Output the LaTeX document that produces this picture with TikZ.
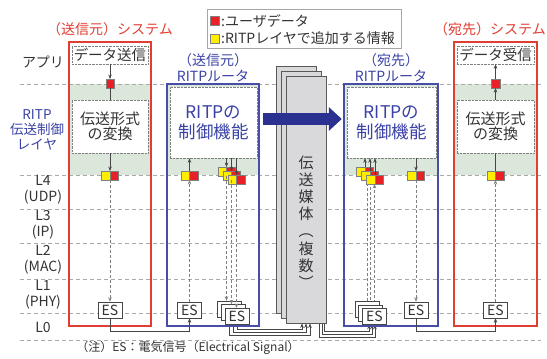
\documentclass[tikz,border=0pt]{standalone}
\usepackage{fontspec}
\setmainfont{Noto Sans CJK JP}
\usetikzlibrary{arrows.meta,positioning}

\definecolor{sysred}{RGB}{224,62,50}
\definecolor{rtblue}{RGB}{72,78,168}
\definecolor{txtblue}{RGB}{58,66,165}
\definecolor{bigblue}{RGB}{43,49,144}
\definecolor{band}{RGB}{220,231,219}
\definecolor{gridgray}{RGB}{170,170,170}
\definecolor{wiregray}{RGB}{70,70,70}
\definecolor{medfill}{RGB}{217,217,219}
\definecolor{usrred}{RGB}{232,32,40}
\definecolor{addyel}{RGB}{255,238,0}

\pgfdeclarelayer{back}
\pgfdeclarelayer{wires}
\pgfsetlayers{back,wires,main}

\newcommand\fsz[2]{\fontsize{#1}{#2}\selectfont}

\begin{document}
\begin{tikzpicture}[x=1pt,y=-1pt,
    sysbox/.style={draw=sysred,line width=1.1pt,minimum width=82pt,minimum height=284pt},
    rtbox/.style={draw=rtblue,line width=1.2pt,minimum height=242pt},
    funcbox/.style={draw=gray,densely dotted,fill=white,inner sep=0pt,align=center,text=black!80},
    usr/.style={draw=gray,fill=usrred,minimum size=8.5pt,inner sep=0pt},
    add/.style={draw=gray,fill=addyel,minimum size=8.5pt,inner sep=0pt},
    pair/.style={draw=gray,minimum width=17pt,minimum height=8.5pt,inner sep=0pt,
      path picture={
        \fill[addyel] (path picture bounding box.south west) rectangle (path picture bounding box.north);
        \fill[usrred] (path picture bounding box.south) rectangle (path picture bounding box.north east);
        \draw[gray] (path picture bounding box.south) -- (path picture bounding box.north);}},
    es/.style={draw=wiregray,fill=white,minimum width=24pt,minimum height=16pt,inner sep=0pt,
      font=\fsz{14}{16},text=black!80},
    medium/.style={draw=black!65,fill=medfill,line width=0.8pt,minimum width=40pt,minimum height=247pt},
    laylabel/.style={align=center,font=\fsz{14}{16},text=black!80},
    systitle/.style={text=sysred,font=\fsz{14}{16},inner sep=0pt},
    rttitle/.style={text=txtblue,align=center,font=\fsz{14}{15.5},inner sep=0pt},
    wire/.style={draw=wiregray,line width=0.6pt},
    sig/.style={wire,-{Stealth[length=4.5pt,width=3.5pt]}},
    dsig/.style={draw=gray,line width=0.7pt,dash pattern=on 3pt off 2pt,-{Stealth[length=4.5pt,width=3.5pt]}},
    gridline/.style={draw=gridgray,line width=0.6pt,dash pattern=on 4pt off 3pt},
  ]
  \useasboundingbox (0,0) rectangle (547,359);

  % layers and green band
  \begin{pgfonlayer}{back}
    \fill[band] (69,84) rectangle (151,175);
    \fill[band] (167,84) rectangle (259,175);
    \fill[band] (344,84) rectangle (438,175);
    \fill[band] (454,84) rectangle (537,175);
    \foreach \y in {84,175,209,243,279,313,340}
      \draw[gridline] (20,\y) -- (541,\y);
  \end{pgfonlayer}

  % layer names
  \node[laylabel] (app) at (43,62) {アプリ};
  \node[laylabel,text=txtblue,font=\fsz{13.5}{15}] (ritp) at (37,130) {RITP\\伝送制御\\レイヤ};
  \node[laylabel] (l4) at (43,190) {L4\\(UDP)};
  \node[laylabel] (l3) at (43,225) {L3\\(IP)};
  \node[laylabel] (l2) at (43,260) {L2\\(MAC)};
  \node[laylabel] (l1) at (43,295) {L1\\(PHY)};
  \node[laylabel] (l0) at (43,327) {L0};

  % systems and routers
  \node[sysbox] (sysS) at (110,184) {};
  \node[sysbox,minimum width=83pt] (sysR) at (495.5,184) {};
  \node[rtbox,minimum width=92pt] (rtA) at (213,205) {};
  \node[rtbox,minimum width=94pt] (rtB) at (391,205) {};

  \node[systitle] (tS) at (110,29) {（送信元）システム};
  \node[systitle,anchor=east] (tR) at (546,29) {（宛先）システム};
  \node[rttitle] (tA) at (213,68) {（送信元）\\RITPルータ};
  \node[rttitle] (tB) at (391,68) {（宛先）\\RITPルータ};

  % functions
  \node[funcbox,minimum width=76pt,minimum height=18pt,font=\fsz{14.5}{16}] (dataS) at (110,55) {データ送信};
  \node[funcbox,minimum width=76pt,minimum height=53pt,font=\fsz{15}{15.5}] (convS) at (110,126.5) {伝送形式\\の変換};
  \node[funcbox,minimum width=77pt,minimum height=18pt,font=\fsz{14.5}{16}] (dataR) at (495.5,55) {データ受信};
  \node[funcbox,minimum width=77pt,minimum height=53pt,font=\fsz{15}{15.5}] (convR) at (495.5,126.5) {伝送形式\\の変換};
  \node[funcbox,minimum width=87pt,minimum height=71pt,text=txtblue,font=\fsz{17.5}{20}] (ctlA) at (213.5,122.5) {RITPの\\制御機能};
  \node[funcbox,minimum width=89pt,minimum height=71pt,text=txtblue,font=\fsz{17.5}{20}] (ctlB) at (391.5,122.5) {RITPの\\制御機能};

  % transmission media
  \node[medium] (med1) at (296,189.5) {};
  \node[medium] (med2) at (301,194.5) {};
  \node[medium] (med3) at (306,199.5) {};
  \node[align=center,font=\fsz{15}{17.2},text=black!80] (medtxt) at (306,222) {伝\\送\\媒\\体\\︵\\複\\数\\︶};

  % user data and headers
  \node[usr] (rS) at (110,83.5) {};
  \node[usr] (rR) at (495.5,83.5) {};
  \node[pair] (pS) at (110,175.5) {};
  \node[pair] (pA0) at (189.5,175.5) {};
  \node[pair] (pA1) at (226.5,171.5) {};
  \node[pair] (pA2) at (231.5,175.5) {};
  \node[pair] (pA3) at (236.5,179.5) {};
  \node[pair] (pB1) at (365,171.5) {};
  \node[pair] (pB2) at (370,175.5) {};
  \node[pair] (pB3) at (375,179.5) {};
  \node[pair] (pB0) at (416,175.5) {};
  \node[pair] (pR) at (495.5,175.5) {};

  % electrical signals
  \node[es] (esS) at (110,310) {ES};
  \node[es] (esA0) at (189.5,310) {ES};
  \node[es] (esA1) at (229,309) {};
  \node[es] (esA2) at (233,312.5) {};
  \node[es] (esA3) at (237,316) {ES};
  \node[es] (esB1) at (367,309.5) {};
  \node[es] (esB2) at (370.5,313) {};
  \node[es] (esB3) at (374.5,316.5) {ES};
  \node[es] (esB0) at (416,310) {ES};
  \node[es] (esR) at (495.5,310) {ES};

  % sender
  \draw[sig] (dataS) -- (rS);
  \draw[wire] (rS) -- (convS);
  \draw[sig] (convS) -- (pS);
  \draw[dsig] (pS) -- (esS);
  \draw[sig] (esS.south) -- ++(0,13) -| (esA0.south);

  % sender router
  \draw[dsig] (esA0) -- (pA0);
  \draw[sig] (pA0) -- (pA0 |- ctlA.south);
  \foreach \i in {1,2,3} {
    \draw[sig] (ctlA.south -| pA\i.north) -- (pA\i.north);
    \draw[dsig] (pA\i.south) -- (pA\i.south |- esA\i.north);
  }

  % to and from the media
  \begin{pgfonlayer}{wires}
    \draw[sig] (esA1.south) -- (esA1.south |- 0,335) -| ([xshift=4pt]med3.south);
    \draw[sig] (esA2.south) -- (esA2.south |- 0,332) -| (med3.south);
    \draw[sig] (esA3.south) -- (esA3.south |- 0,329) -| ([xshift=-4pt]med3.south);
    \draw[sig] ([xshift=13pt]med3.south) -- ++(0,14) -| ([xshift=0.5pt]esB3.south);
    \draw[sig] ([xshift=16pt]med3.south) -- ++(0,11) -| ([xshift=-2.5pt]esB3.south);
    \draw[sig] ([xshift=18.5pt]med3.south) -- ++(0,8) -| ([xshift=-5.5pt]esB3.south);
    \foreach \i in {1,2,3}
      \draw[dsig] (esB\i.north) -- (esB\i.north |- pB\i.south);
  \end{pgfonlayer}

  % receiver router
  \foreach \i in {1,2,3}
    \draw[sig] (pB\i.north) -- (pB\i.north |- ctlB.south);
  \draw[sig] (ctlB.south -| pB0.north) -- (pB0.north);
  \draw[dsig] (pB0) -- (esB0);
  \draw[sig] (esB0.south) -- ++(0,13) -| (esR.south);

  % receiver
  \draw[dsig] (esR) -- (pR);
  \draw[wire] (pR) -- (convR);
  \draw[sig] (convR) -- (rR);
  \draw[sig] (rR) -- (dataR);

  % relay between the routers
  \draw[bigblue,line width=12pt,-{Triangle[length=13pt,width=23pt]}]
    ([xshift=6pt,yshift=3.5pt]ctlA.east) -- ([xshift=-5pt,yshift=3.5pt]ctlB.west);

  % legend
  \node[draw=black!35,line width=0.6pt,minimum width=194pt,minimum height=39pt] (leg) at (304,28.5) {};
  \node[usr] (legU) at (214.5,20.5) {};
  \node[add] (legA) at (214.5,38.5) {};
  \node[right=1pt of legU,font=\fsz{14}{15},text=black!80,inner sep=1pt] (legUt) {:ユーザデータ};
  \node[right=1pt of legA,font=\fsz{14}{15},text=black!80,inner sep=1pt] (legAt) {:RITPレイヤで追加する情報};

  % note
  \node[font=\fsz{12}{14},text=black!80] (note) at (188,348) {（注）ES：電気信号（Electrical Signal）};
\end{tikzpicture}
\end{document}
